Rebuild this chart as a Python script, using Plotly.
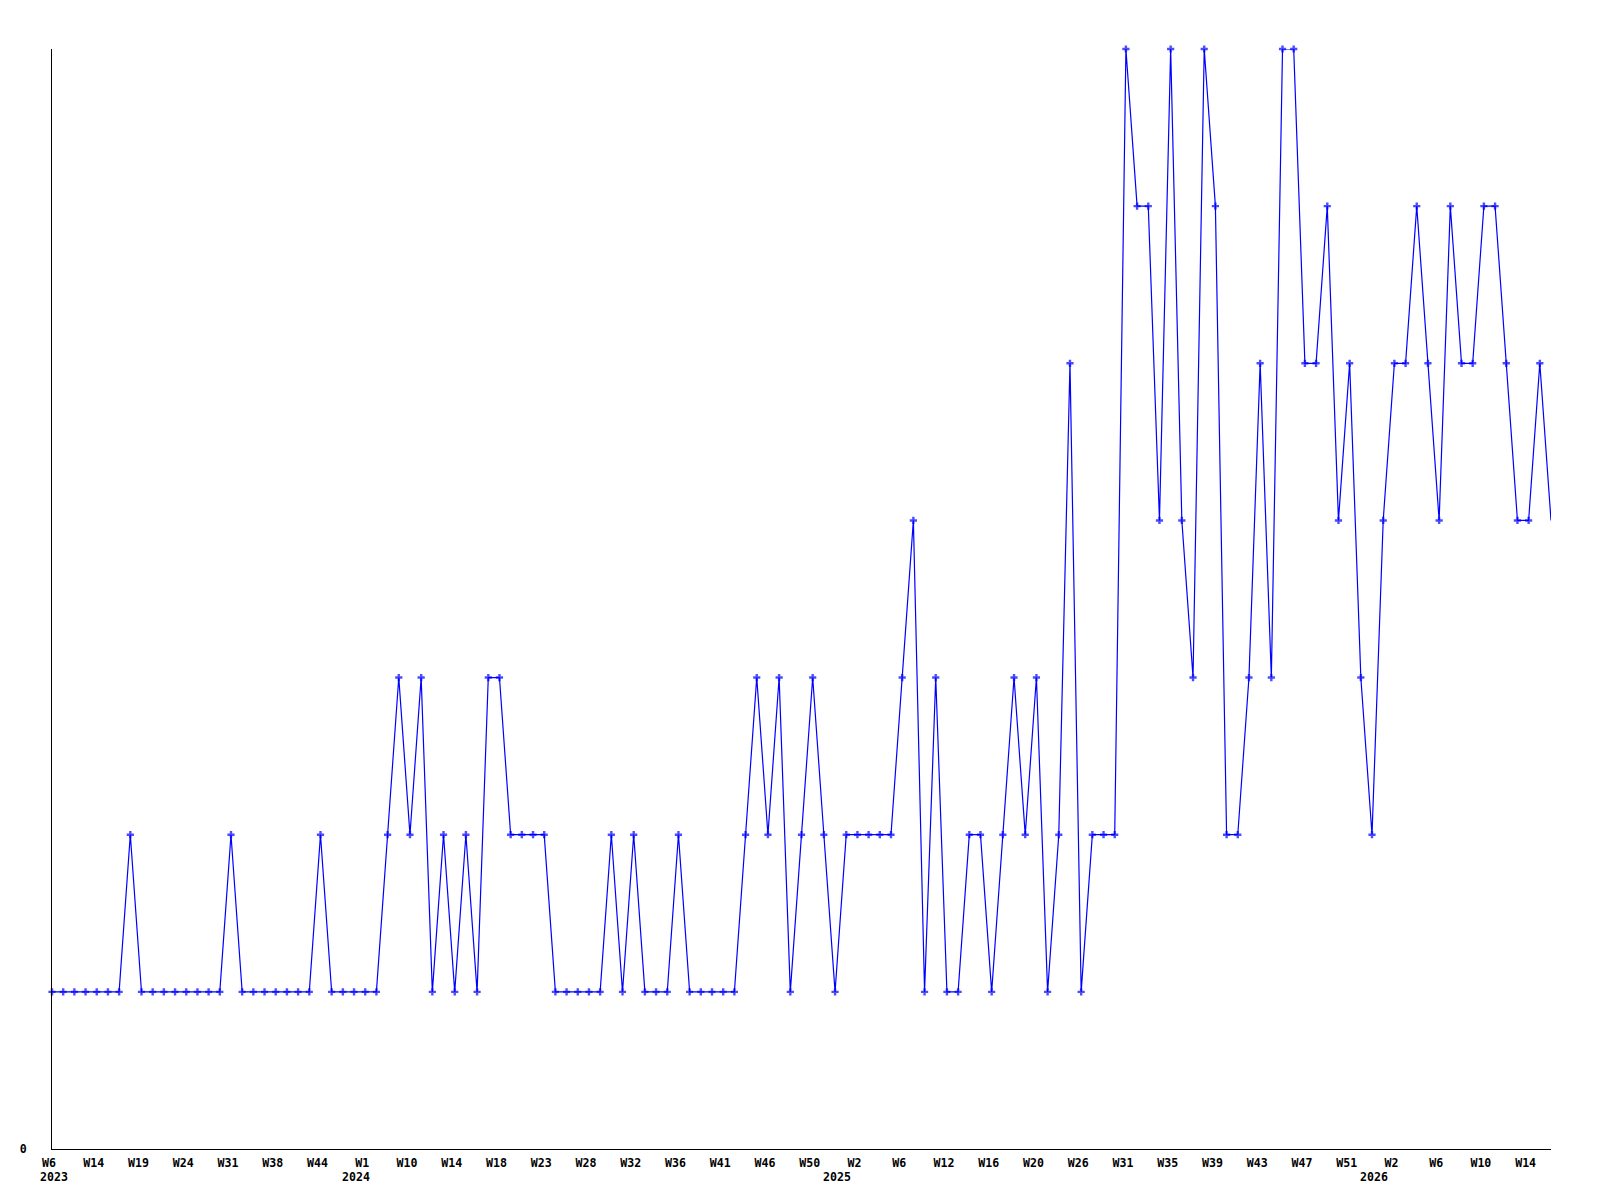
import plotly.graph_objects as go

# Weekly values, one per plotted week (2023 W6 onwards)
values = [
    1, 1, 1, 1, 1, 1, 1, 2, 1, 1, 1, 1, 1, 1, 1, 1, 2, 1, 1, 1,
    1, 1, 1, 1, 2, 1, 1, 1, 1, 1, 2, 3, 2, 3, 1, 2, 1, 2, 1, 3,
    3, 2, 2, 2, 2, 1, 1, 1, 1, 1, 2, 1, 2, 1, 1, 1, 2, 1, 1, 1,
    1, 1, 2, 3, 2, 3, 1, 2, 3, 2, 1, 2, 2, 2, 2, 2, 3, 4, 1, 3,
    1, 1, 2, 2, 1, 2, 3, 2, 3, 1, 2, 5, 1, 2, 2, 2, 7, 6, 6, 4,
    7, 4, 3, 7, 6, 2, 2, 3, 5, 3, 7, 7, 5, 5, 6, 4, 5, 3, 2, 4,
    5, 5, 6, 5, 4, 6, 5, 5, 6, 6, 5, 4, 4, 5, 4,
]

# Week labels shown on every 4th point
week_labels = [
    "W6", "W14", "W19", "W24", "W31", "W38", "W44", "W1", "W10", "W14",
    "W18", "W23", "W28", "W32", "W36", "W41", "W46", "W50", "W2", "W6",
    "W12", "W16", "W20", "W26", "W31", "W35", "W39", "W43", "W47", "W51",
    "W2", "W6", "W10", "W14",
]
label_step = 4

# Year labels and the index of the first plotted week of each year
year_labels = ["2023", "2024", "2025", "2026"]
year_start_index = [0, 28, 71, 119]

x = list(range(len(values)))
tickvals = x[::label_step][: len(week_labels)]

FONT = "DejaVu Sans Mono"
BLUE = "#0000FF"

marker_sizes = [6] * (len(values) - 1) + [0]

fig = go.Figure()
fig.add_trace(
    go.Scatter(
        x=x,
        y=values,
        mode="lines+markers",
        line=dict(color=BLUE, width=1.2),
        marker=dict(symbol="cross", size=marker_sizes, color=BLUE, line=dict(width=0)),
        cliponaxis=False,
        hoverinfo="x+y",
        showlegend=False,
    )
)

for i, (lab, idx) in enumerate(zip(year_labels, year_start_index)):
    fig.add_annotation(
        x=idx,
        y=0,
        xref="x",
        yref="paper",
        text=lab,
        showarrow=False,
        xanchor="left",
        yanchor="top",
        xshift=(-13 if i == 0 else -24),
        yshift=-20,
        borderpad=0,
        font=dict(family=FONT, size=11.6, color="black", weight="bold"),
    )

# The page body has an 8px default margin, so margins are offset to
# place the plot area at x 50..1551, y 49..1149 in the window.
fig.update_layout(
    width=1600,
    height=1200,
    margin=dict(l=42, r=57, t=41, b=59),
    paper_bgcolor="white",
    plot_bgcolor="white",
    font=dict(family=FONT, size=11.6, color="black", weight="bold"),
    showlegend=False,
)

fig.update_xaxes(
    range=[0, len(values) - 1],
    showgrid=False,
    zeroline=False,
    showline=True,
    linecolor="black",
    linewidth=1,
    ticks="",
    tickmode="array",
    tickvals=tickvals,
    ticktext=week_labels,
    ticklabelstandoff=3,
    ticklabelshift=-3,
    tickfont=dict(family=FONT, size=11.6, color="black", weight="bold"),
    fixedrange=True,
)

fig.update_yaxes(
    range=[0, 7],
    showgrid=False,
    zeroline=False,
    showline=True,
    linecolor="black",
    linewidth=1,
    ticks="",
    tickmode="array",
    tickvals=[0],
    ticktext=["0"],
    ticklabelstandoff=22,
    tickfont=dict(family=FONT, size=11.6, color="black", weight="bold"),
    fixedrange=True,
)

fig.write_html("out.html")
